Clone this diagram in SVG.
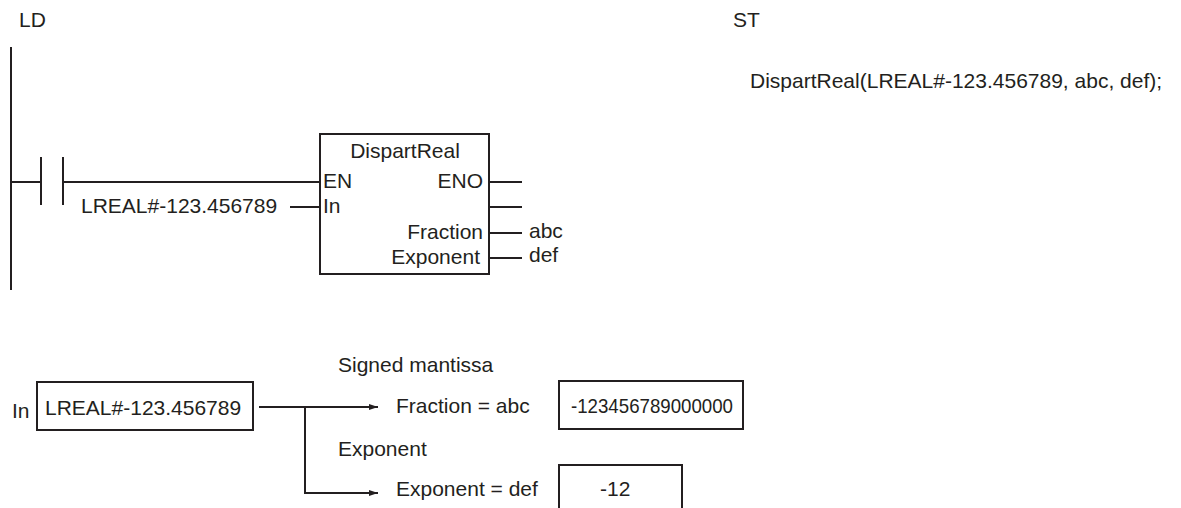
<svg xmlns="http://www.w3.org/2000/svg" width="1181" height="508" viewBox="0 0 1181 508">
<style>
text{font-family:"Liberation Sans",Arial,sans-serif;font-size:21px;fill:#231f20}
.ln{stroke:#231f20;stroke-width:2;fill:none}
.bx{stroke:#231f20;stroke-width:2;fill:#fff}
</style>
<defs>
<marker id="ah" markerWidth="9" markerHeight="7" refX="9" refY="3.5" orient="auto" markerUnits="userSpaceOnUse">
<path d="M0,0.5 L9,3.5 L0,6.5 Z" fill="#231f20"/>
</marker>
</defs>
<rect width="1181" height="508" fill="#fff"/>
<g id="labels">
<text x="19" y="27">LD</text>
<text x="733" y="27">ST</text>
<text x="750" y="88">DispartReal(LREAL#-123.456789, abc, def);</text>
</g>
<g id="rail"><line class="ln" x1="11" y1="47" x2="11" y2="290"/></g>
<g id="contact">
<line class="ln" x1="41" y1="157" x2="41" y2="205"/>
<line class="ln" x1="63" y1="157" x2="63" y2="205"/>
</g>
<g id="fb">
<rect class="bx" x="320" y="134" width="169" height="140"/>
<text x="405" y="158" text-anchor="middle">DispartReal</text>
<text x="323" y="188">EN</text>
<text x="323" y="213">In</text>
<text x="483" y="188" text-anchor="end">ENO</text>
<text x="483" y="239" text-anchor="end">Fraction</text>
<text x="480" y="264" text-anchor="end">Exponent</text>
</g>
<g id="ld-vars">
<text x="81" y="213">LREAL#-123.456789</text>
<text x="529" y="238">abc</text>
<text x="529" y="262">def</text>
</g>
<g id="in-box">
<text x="12" y="418">In</text>
<rect class="bx" x="37" y="382" width="216" height="48"/>
<text x="45" y="415">LREAL#-123.456789</text>
</g>
<g id="frac-box">
<rect class="bx" x="559" y="381" width="184" height="48"/>
<text x="571" y="413" textLength="162" lengthAdjust="spacingAndGlyphs">-123456789000000</text>
</g>
<g id="exp-box">
<rect class="bx" x="559" y="465" width="123" height="60"/>
<text x="600" y="496">-12</text>
</g>
<g id="out-labels">
<text x="338" y="372">Signed mantissa</text>
<text x="396" y="413">Fraction = abc</text>
<text x="338" y="456">Exponent</text>
<text x="396" y="496">Exponent = def</text>
</g>
<g id="connectors">
<line class="ln" x1="11" y1="182" x2="41" y2="182"/>
<line class="ln" x1="63" y1="182" x2="320" y2="182"/>
<line class="ln" x1="290" y1="207" x2="320" y2="207"/>
<line class="ln" x1="489" y1="182" x2="522" y2="182"/>
<line class="ln" x1="489" y1="207" x2="522" y2="207"/>
<line class="ln" x1="489" y1="233" x2="522" y2="233"/>
<line class="ln" x1="489" y1="258" x2="522" y2="258"/>
<line class="ln" x1="259" y1="407" x2="378" y2="407" marker-end="url(#ah)"/>
<polyline class="ln" points="305,407 305,493 378,493" marker-end="url(#ah)"/>
</g>
</svg>
